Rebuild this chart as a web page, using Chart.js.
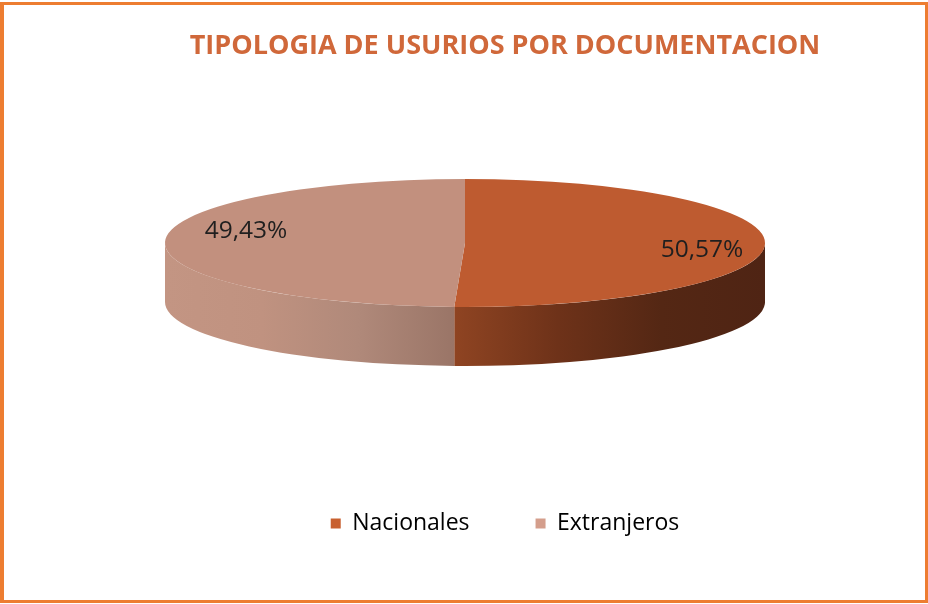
<!DOCTYPE html>
<html>
<head>
<meta charset="utf-8">
<script src="https://cdn.jsdelivr.net/npm/chart.js@4.4.1/dist/chart.umd.min.js"></script>
<style>
    html, body { margin: 0; padding: 0; background: #fff; }
    #wrap { position: relative; width: 928px; height: 604px; }
    #frame {
        position: absolute; left: 0; top: 2px; width: 928px; height: 601px;
        box-sizing: border-box; border: 3px solid #ED7D31; border-left-width: 4px;
        pointer-events: none;
    }
</style>
</head>
<body>
<div id="wrap">
    <canvas id="pieChart" width="928" height="604"></canvas>
    <div id="frame"></div>
</div>
<script>
/* global Chart */

// Usuarios por tipo de documentacion
const categories = ['Nacionales', 'Extranjeros'];
const shares = [50.57, 49.43];
const shareLabels = ['50,57%', '49,43%'];

const topColors = ['#BE5B30', '#C2907E'];
const legendColors = ['#C8602F', '#D49E8C'];
// side wall gradient, left -> right
const sideColors = [
    ['#8F4422', '#6E3219', '#542714', '#4F2414'],
    ['#C39583', '#C09280', '#B0897A', '#9A7567'],
];

// Fake 3D: squash the pie into an ellipse and paint the front walls under it
const pie3d = {
    id: 'pie3d',
    beforeDatasetsDraw(chart, args, opts) {
        const ctx = chart.ctx;
        const arcs = chart.getDatasetMeta(0).data;
        const {cx, cy, rx, ry, depth} = opts;

        arcs.forEach((arc, i) => {
            const s = arc.startAngle;
            const e = arc.endAngle;
            for (let k = -1; k <= 1; k++) {
                const a0 = Math.max(s, 2 * Math.PI * k);
                const a1 = Math.min(e, 2 * Math.PI * k + Math.PI);
                if (a0 >= a1) continue;
                const b0 = a0 - 2 * Math.PI * k;
                const b1 = a1 - 2 * Math.PI * k;
                const xl = cx + rx * Math.cos(b1);
                const xr = cx + rx * Math.cos(b0);
                const grad = ctx.createLinearGradient(xl, 0, xr, 0);
                const stops = sideColors[i];
                stops.forEach((c, j) => grad.addColorStop(j / (stops.length - 1), c));
                ctx.save();
                ctx.beginPath();
                ctx.ellipse(cx, cy, rx, ry, 0, b0, b1, false);
                ctx.ellipse(cx, cy + depth, rx, ry, 0, b1, b0, true);
                ctx.closePath();
                ctx.fillStyle = grad;
                ctx.fill();
                ctx.restore();
            }
        });

        const ref = arcs[0];
        const R = ref.outerRadius;
        ctx.save();
        ctx.translate(cx, cy);
        ctx.scale(rx / R, ry / R);
        ctx.translate(-ref.x, -ref.y);
    },
    afterDatasetsDraw(chart, args, opts) {
        const ctx = chart.ctx;
        ctx.restore();

        const arcs = chart.getDatasetMeta(0).data;
        const {cx, cy, rx, ry, labelRadius, labelShift} = opts;
        ctx.save();
        ctx.font = '24.5px "Open Sans"';
        ctx.fillStyle = '#1F1F1F';
        ctx.textAlign = 'center';
        ctx.textBaseline = 'middle';
        arcs.forEach((arc, i) => {
            const mid = (arc.startAngle + arc.endAngle) / 2;
            const x = cx + rx * labelRadius[i] * Math.cos(mid);
            const y = cy + ry * labelRadius[i] * Math.sin(mid) + labelShift[i];
            ctx.fillText(shareLabels[i], x, y);
        });
        ctx.restore();
    }
};

window.addEventListener('load', () => {
    const ctx = document.getElementById('pieChart').getContext('2d');

    new Chart(ctx, {
        type: 'pie',
        data: {
            labels: categories,
            datasets: [{
                data: shares,
                backgroundColor: topColors,
                borderWidth: 0,
            }]
        },
        plugins: [pie3d],
        options: {
            responsive: false,
            animation: false,
            layout: {
                padding: { left: 82, right: 0, top: 0, bottom: 59 }
            },
            plugins: {
                tooltip: { enabled: false },
                title: {
                    display: true,
                    text: 'TIPOLOGIA DE USURIOS POR DOCUMENTACION',
                    color: '#D0683A',
                    font: { family: '"Open Sans"', size: 27, weight: 'bold' },
                    padding: { top: 30, bottom: 10 }
                },
                legend: {
                    position: 'bottom',
                    labels: {
                        boxWidth: 10,
                        boxHeight: 10,
                        padding: 66,
                        color: '#1F1F1F',
                        font: { family: '"Open Sans"', size: 23 },
                        generateLabels: (chart) => categories.map((c, i) => ({
                            text: c,
                            fillStyle: legendColors[i],
                            strokeStyle: legendColors[i],
                            lineWidth: 0,
                            index: i,
                        }))
                    }
                },
                pie3d: {
                    cx: 465,
                    cy: 243,
                    rx: 300,
                    ry: 64,
                    depth: 59,
                    labelRadius: [0.79, 0.73],
                    labelShift: [6, -11],
                }
            }
        }
    });
});
</script>
</body>
</html>
